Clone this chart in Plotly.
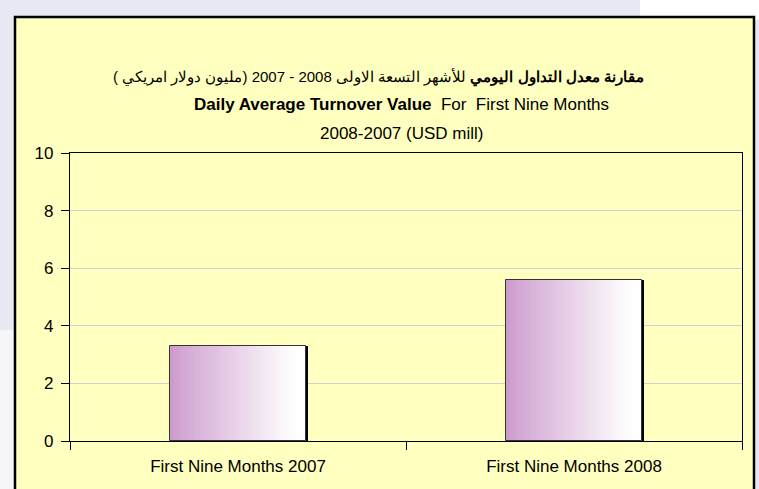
import plotly.graph_objects as go

categories = ["First Nine Months 2007", "First Nine Months 2008"]
values = [3.3, 5.6]
y_ticks = [0, 2, 4, 6, 8, 10]

title_ar_bold = "مقارنة معدل التداول اليومي"
title_ar_rest = "للأشهر التسعة الاولى 2008 - 2007 (مليون دولار امريكي )"
title_en_bold = "Daily Average Turnover Value"
title_en_rest = "For  First Nine Months"
title_en_line3 = "2008-2007 (USD mill)"

FONT = "Liberation Sans, Arial"
YELLOW = "#FFFFC0"

BAR_W = 0.405
N = 36
c0 = (204, 153, 204)

fig = go.Figure()

# shadow
fig.add_trace(go.Bar(x=categories, y=values, width=BAR_W, offset=-BAR_W / 2 + 0.007,
                     marker=dict(color="#000000", line=dict(width=0)),
                     hoverinfo="skip", showlegend=False))

# gradient slices
for i in range(N):
    t = (i + 0.5) / N
    f = min(1.0, t / 0.92) ** 0.9
    r, g, b = [int(round(c + (255 - c) * f)) for c in c0]
    fig.add_trace(go.Bar(x=categories, y=values, width=BAR_W / N * 1.05,
                         offset=-BAR_W / 2 + i * BAR_W / N,
                         marker=dict(color=f"rgb({r},{g},{b})", line=dict(width=0)),
                         hoverinfo="skip", showlegend=False))

# outline
fig.add_trace(go.Bar(x=categories, y=values, width=BAR_W, offset=-BAR_W / 2,
                     marker=dict(color="rgba(0,0,0,0)", line=dict(color="#333333", width=1)),
                     hoverinfo="skip", showlegend=False))

def px_x(x):
    return (x - 70) / 672.0

def px_y(y):
    return (441 - y) / 288.0

shapes = [
    dict(type="rect", xref="paper", yref="paper", x0=px_x(640), x1=px_x(770), y0=px_y(20), y1=px_y(-10),
         fillcolor="#ffffff", line=dict(width=0), layer="below"),
    dict(type="rect", xref="paper", yref="paper", x0=px_x(-10), x1=px_x(16), y0=px_y(500), y1=px_y(330),
         fillcolor="#f6f6f8", line=dict(width=0), layer="below"),
    dict(type="rect", xref="paper", yref="paper", x0=px_x(15), x1=px_x(754), y0=px_y(500), y1=px_y(17),
         fillcolor=YELLOW, line=dict(color="#000000", width=2.5), layer="below"),
]

annotations = [
    dict(text=f"<b>{title_ar_bold}</b> {title_ar_rest}", x=px_x(378), y=px_y(77),
         xref="paper", yref="paper", showarrow=False, xanchor="center", yanchor="middle",
         font=dict(family=FONT, size=15, color="#000000")),
    dict(text=f"<b>{title_en_bold}</b>  {title_en_rest}", x=px_x(401), y=px_y(104),
         xref="paper", yref="paper", showarrow=False, xanchor="center", yanchor="middle",
         font=dict(family=FONT, size=17, color="#000000")),
    dict(text=title_en_line3, x=px_x(401), y=px_y(134),
         xref="paper", yref="paper", showarrow=False, xanchor="center", yanchor="middle",
         font=dict(family=FONT, size=17, color="#000000")),
]

fig.update_layout(
    width=759, height=489,
    margin=dict(l=70, r=17, t=153, b=48),
    paper_bgcolor="#e6e9f1",
    plot_bgcolor=YELLOW,
    barmode="overlay",
    bargap=0,
    shapes=shapes,
    annotations=annotations,
    font=dict(family=FONT, size=17, color="#000000"),
    showlegend=False,
)

fig.update_xaxes(type="category", range=[-0.5, 1.5], showline=True, linecolor="#000000", linewidth=1.2,
                 mirror=True, ticks="outside", tickson="boundaries", ticklen=8, tickcolor="#000000",
                 showgrid=False, ticklabelstandoff=9, tickfont=dict(family=FONT, size=17, color="#000000"))
fig.update_yaxes(range=[0, 10], tickvals=y_ticks, showline=True, linecolor="#000000", linewidth=1.2,
                 mirror=True, ticks="outside", ticklen=8, tickcolor="#000000",
                 showgrid=True, gridcolor="#d0d0d0", gridwidth=1, zeroline=False, ticklabelstandoff=4,
                 tickfont=dict(family=FONT, size=17, color="#000000"))

fig.write_html("out.html", config={"displayModeBar": False},
               post_script="document.body.style.margin='0';document.body.style.overflow='hidden';")
